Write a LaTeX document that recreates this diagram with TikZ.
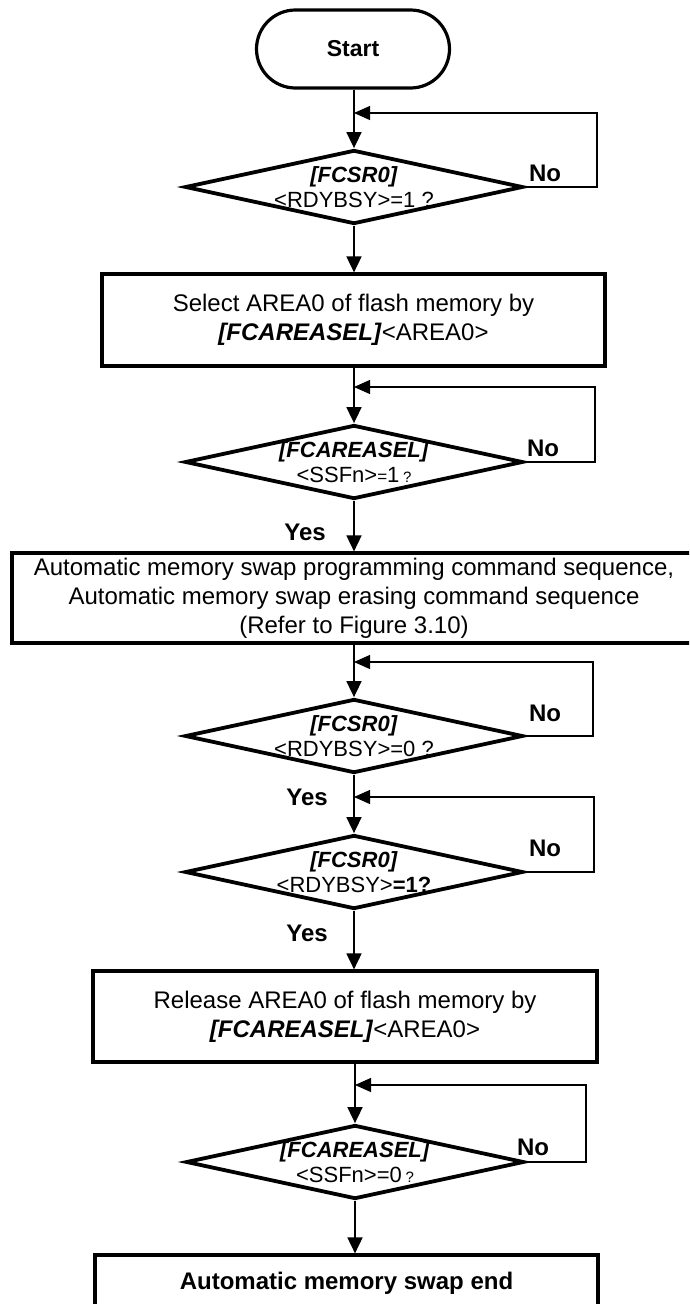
\documentclass[tikz,border=0pt]{standalone}
\usepackage{fontspec}
\setmainfont{Liberation Sans}
\usetikzlibrary{shapes.geometric,arrows.meta}
\newcommand\smq{{\fontsize{15}{15}\selectfont ?}}
\newcommand\smeq{{\fontsize{17}{17}\selectfont =}}
\newcommand\regbi[1]{\textbf{\textit{#1}}}
\tikzset{
  term/.style={draw, line width=3.2pt, rectangle, rounded corners=39pt, minimum width=193pt, minimum height=78pt, inner sep=0pt, font=\bfseries\fontsize{23}{28}\selectfont},
  box/.style={draw, line width=3.2pt, rectangle, inner sep=0pt, align=center, font=\fontsize{24}{29}\selectfont},
  dec/.style={draw, diamond, line width=3.8pt, inner sep=0pt, minimum width=338pt, minimum height=74pt},
  dtext/.style={align=center, inner sep=0pt, font=\fontsize{22}{25}\selectfont},
  lbl/.style={inner sep=0pt, font=\bfseries\fontsize{24}{28}\selectfont},
  flow/.style={line width=1.7pt, -{Triangle[length=16pt,width=15pt]}},
  back/.style={line width=1.1pt, -{Triangle[length=16pt,width=14pt]}},
}
\begin{document}
\begin{tikzpicture}[x=1pt,y=-1pt]
\useasboundingbox (0,0) rectangle (689,1304);
\clip (0,0) rectangle (689,1304);
% nodes
\node[term] (start) at (353,49) {Start};
\node[dec] (d1) at (354,187) {};
\node[dtext] (t1) at (d1) {\regbi{[FCSR0]}\\<RDYBSY>=1 ?};
\node[box, minimum width=503pt, minimum height=92pt] (b1) at (353.5,320) {Select AREA0 of flash memory by\\\regbi{[FCAREASEL]}<AREA0>};
\node[dec] (d2) at (354,462) {};
\node[dtext] (t2) at (d2) {\regbi{[FCAREASEL]}\\<SSFn>\smeq1\,\smq};
\node[box, minimum width=684pt, minimum height=90pt] (b2) at (354,598) {Automatic memory swap programming command sequence,\\Automatic memory swap erasing command sequence\\(Refer to Figure 3.10)};
\node[dec] (d3) at (354,736) {};
\node[dtext] (t3) at (d3) {\regbi{[FCSR0]}\\<RDYBSY>=0 ?};
\node[dec] (d4) at (354,872) {};
\node[dtext] (t4) at (d4) {\regbi{[FCSR0]}\\<RDYBSY>\textbf{=1?}};
\node[box, minimum width=504pt, minimum height=91pt] (b3) at (345,1016.5) {Release AREA0 of flash memory by\\\regbi{[FCAREASEL]}<AREA0>};
\node[dec] (d5) at (355,1162) {};
\node[dtext] (t5) at (d5) {\regbi{[FCAREASEL]}\\<SSFn>=0\,\smq};
\node[box, font=\bfseries\fontsize{24}{29}\selectfont, minimum width=503pt, minimum height=56pt] (b4) at (346.5,1283) {Automatic memory swap end};
% labels
\node[lbl] (n1) at (545,173) {No};
\node[lbl] (n2) at (543,448) {No};
\node[lbl] (n3) at (545,713) {No};
\node[lbl] (n4) at (545,848) {No};
\node[lbl] (n5) at (533,1147) {No};
\node[lbl] (y2) at (305,532) {Yes};
\node[lbl] (y3) at (307,797) {Yes};
\node[lbl] (y4) at (307,933) {Yes};
% loop corners
\coordinate (r1) at (597,113);
\coordinate (r2) at (595,387);
\coordinate (r3) at (593,662);
\coordinate (r4) at (594,797);
\coordinate (r5) at (586,1085);
% main flow
\draw[flow] (start.south -| d1.north) -- (d1.north);
\draw[flow] (d1.south) -- (d1.south |- b1.north);
\draw[flow] (d2.north |- b1.south) -- (d2.north);
\draw[flow] (d2.south) -- (d2.south |- b2.north);
\draw[flow] (d3.north |- b2.south) -- (d3.north);
\draw[flow] (d3.south) -- (d4.north);
\draw[flow] (d4.south) -- (d4.south |- b3.north);
\draw[flow] (d5.north |- b3.south) -- (d5.north);
\draw[flow] (d5.south) -- (d5.south |- b4.north);
% loops
\draw[back] (d1.east) -| (r1) -- (r1 -| d1.north);
\draw[back] (d2.east) -| (r2) -- (r2 -| d2.north);
\draw[back] (d3.east) -| (r3) -- (r3 -| d3.north);
\draw[back] (d4.east) -| (r4) -- (r4 -| d4.north);
\draw[back] (d5.east) -| (r5) -- (r5 -| d5.north);
\end{tikzpicture}
\end{document}
